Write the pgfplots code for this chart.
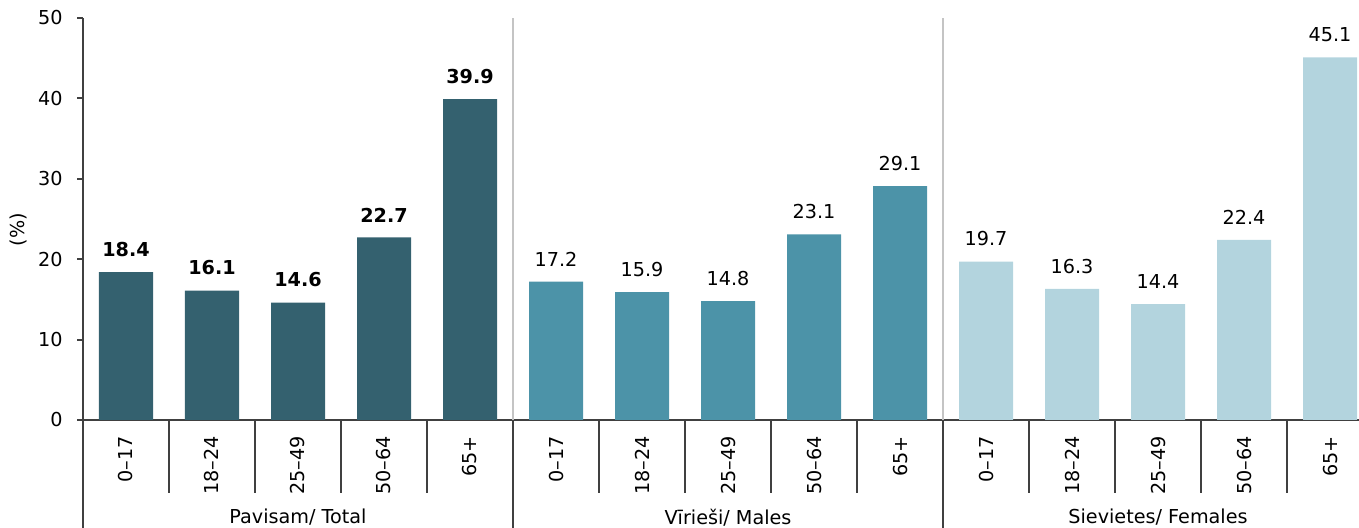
\documentclass[border=0pt]{standalone}
\usepackage{fontspec}
\setmainfont{DejaVu Sans}
\usepackage{pgfplots}
\pgfplotsset{compat=1.18}

\definecolor{cTotal}{HTML}{34616F}
\definecolor{cMale}{HTML}{4C93A8}
\definecolor{cFemale}{HTML}{B3D4DE}
\definecolor{axgray}{HTML}{404040}
\definecolor{divgray}{HTML}{C4C4C4}

\newcommand{\lbl}{\fontsize{9.6}{11}\selectfont}

\begin{document}
\begin{tikzpicture}
\begin{axis}[
    scale only axis,
    width=638pt, height=201pt,
    xmin=-0.5, xmax=14.337,
    ymin=0, ymax=50,
    axis lines*=left,
    axis line style={axgray, line width=1pt},
    tick style={axgray, line width=1pt},
    tick align=outside,
    font=\lbl,
    /pgf/number format/assume math mode=true,
    ytick={0,10,...,50},
    major tick length=3pt,
    yticklabel style={anchor=east, inner sep=0pt, xshift=-7pt},
    xtick={0,...,14},
    major x tick style={draw=none},
    xticklabels={0--17,18--24,25--49,50--64,65+,0--17,18--24,25--49,50--64,65+,0--17,18--24,25--49,50--64,65+},
    xticklabel style={rotate=90, anchor=east, inner sep=0pt},
    xticklabel shift=5pt,
    minor xtick={0.5,1.5,2.5,3.5,5.5,6.5,7.5,8.5,10.5,11.5,12.5,13.5},
    minor tick length=36.5pt,
    ylabel={(\%)},
    ylabel style={at={(rel axis cs:-0.0509,0.473)}, anchor=center},
    clip=false,
    ybar,
    bar width=0.628,
    bar shift=0pt,
    nodes near coords={\pgfmathprintnumber[fixed,fixed zerofill,precision=1]{\pgfplotspointmeta}},
    every node near coord/.append style={anchor=south, inner sep=0pt, yshift=7.5pt, text=black},
]
% group dividers
\draw[divgray, line width=0.8pt] (axis cs:4.5,0) -- (axis cs:4.5,50);
\draw[divgray, line width=0.8pt] (axis cs:9.5,0) -- (axis cs:9.5,50);

\addplot[draw=none, fill=cTotal,
    every node near coord/.append style={font=\lbl\bfseries}]
  coordinates {(0,18.4) (1,16.1) (2,14.6) (3,22.7) (4,39.9)};
\addplot[draw=none, fill=cMale]
  coordinates {(5,17.2) (6,15.9) (7,14.8) (8,23.1) (9,29.1)};
\addplot[draw=none, fill=cFemale]
  coordinates {(10,19.7) (11,16.3) (12,14.4) (13,22.4) (14,45.1)};

\draw[axgray, line width=1pt] (axis cs:-0.5,0) -- (axis cs:-0.5,-13.6);
\draw[axgray, line width=1pt] (axis cs:4.5,0) -- (axis cs:4.5,-13.6);
\draw[axgray, line width=1pt] (axis cs:9.5,0) -- (axis cs:9.5,-13.6);

\node[anchor=center] at (axis cs:2,-12.1) {Pavisam/ Total};
\node[anchor=center] at (axis cs:7,-12.1) {Vīrieši/ Males};
\node[anchor=center] at (axis cs:12,-12.1) {Sievietes/ Females};

\coordinate (bbl) at (rel axis cs:-0.06505,-0.26866);
\coordinate (btr) at (rel axis cs:1,1.04478);
\end{axis}
\pgfresetboundingbox
\useasboundingbox (bbl) rectangle (btr);
\end{tikzpicture}
\end{document}
